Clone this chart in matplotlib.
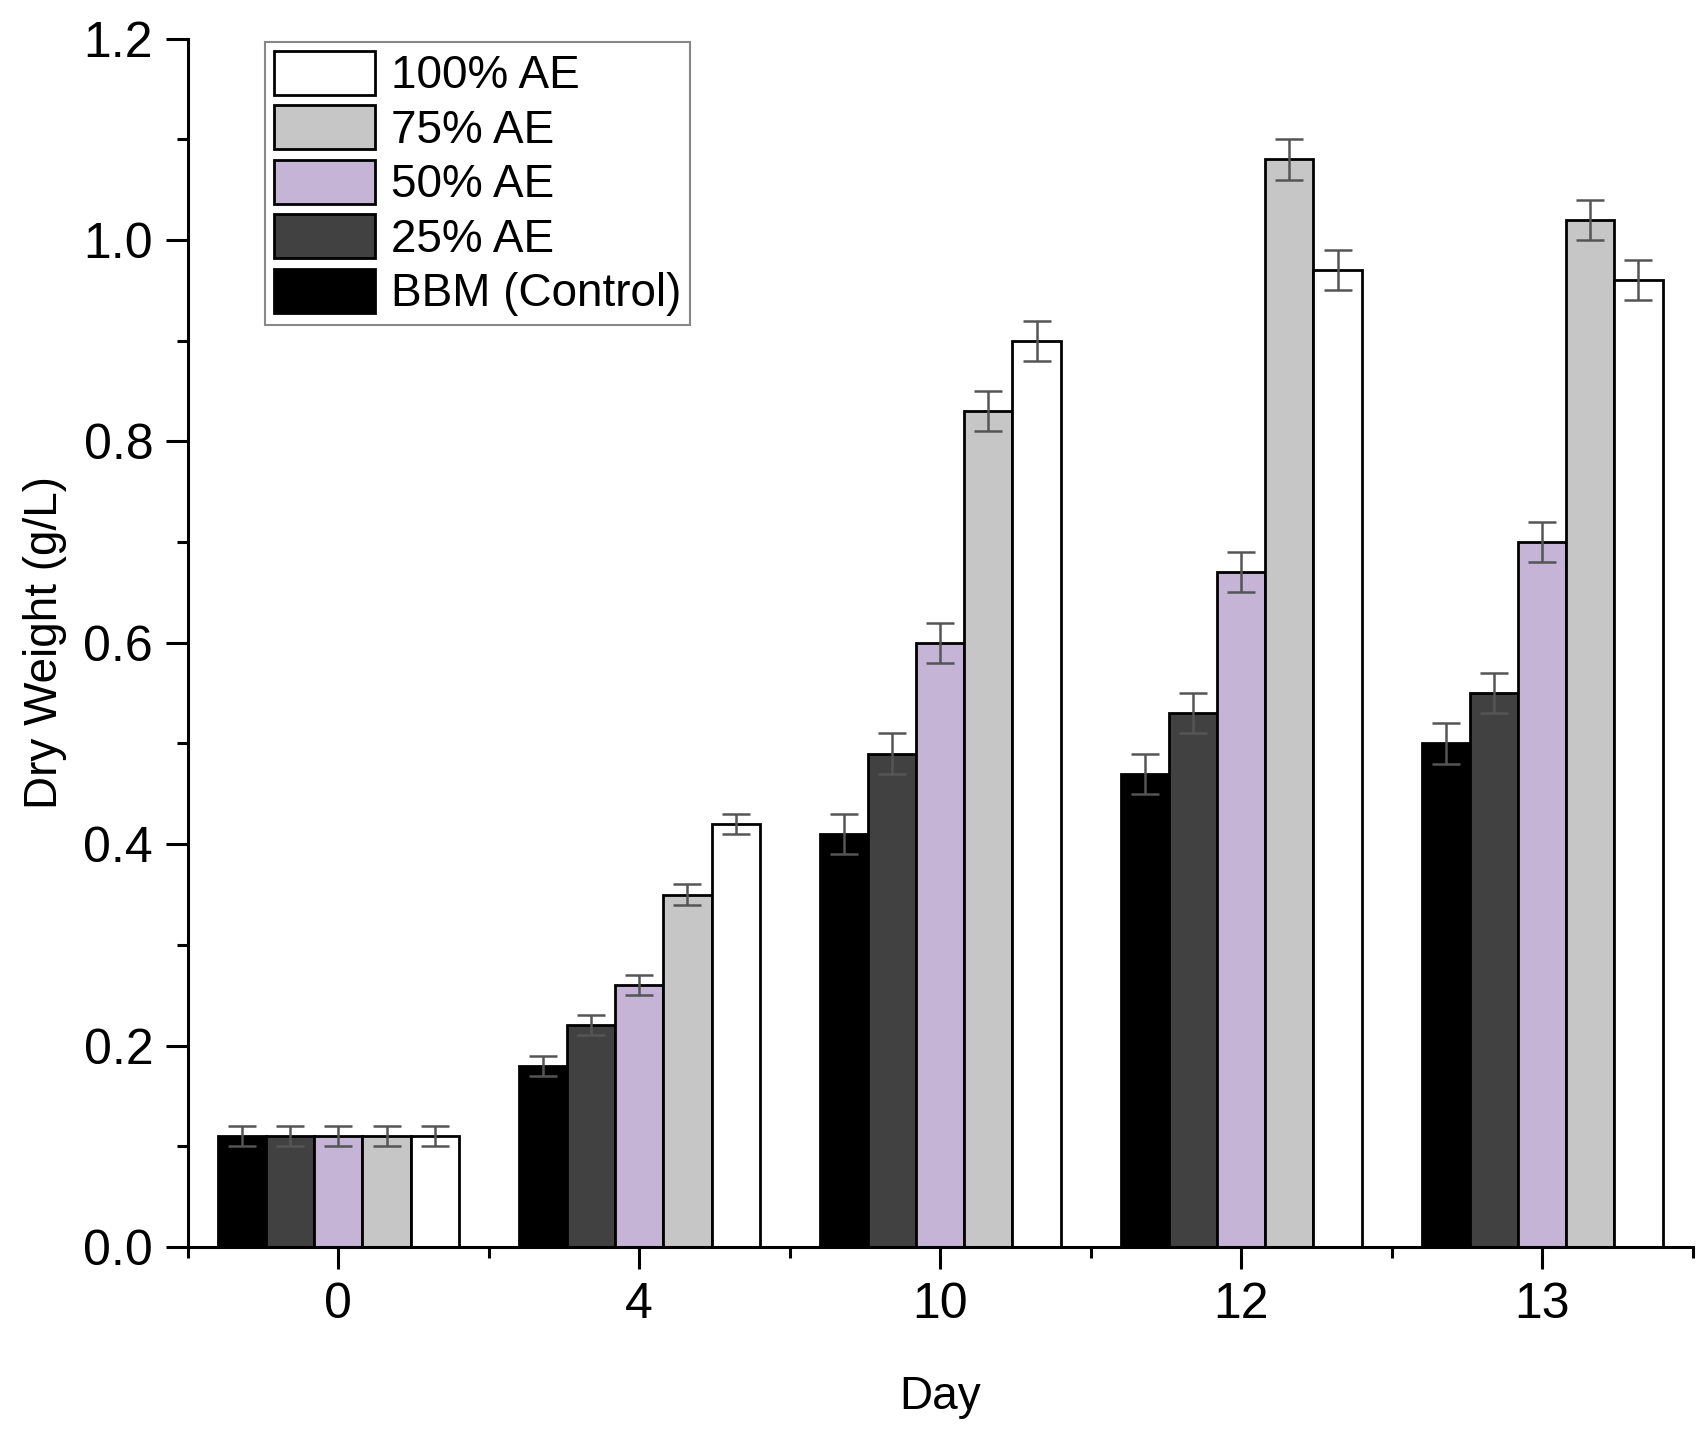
import matplotlib.pyplot as plt
import numpy as np

plt.rcParams['font.family'] = ['Liberation Sans', 'DejaVu Sans']

# Data
days = ['0', '4', '10', '12', '13']
series = ['BBM (Control)', '25% AE', '50% AE', '75% AE', '100% AE']
colors = ['#000000', '#414141', '#c5b4d6', '#c6c6c6', '#ffffff']

bbm = [0.11, 0.18, 0.41, 0.47, 0.50]
ae25 = [0.11, 0.22, 0.49, 0.53, 0.55]
ae50 = [0.11, 0.26, 0.60, 0.67, 0.70]
ae75 = [0.11, 0.35, 0.83, 1.08, 1.02]
ae100 = [0.11, 0.42, 0.90, 0.97, 0.96]

err_bbm = [0.01, 0.01, 0.02, 0.02, 0.02]
err_25 = [0.01, 0.01, 0.02, 0.02, 0.02]
err_50 = [0.01, 0.01, 0.02, 0.02, 0.02]
err_75 = [0.01, 0.01, 0.02, 0.02, 0.02]
err_100 = [0.01, 0.01, 0.02, 0.02, 0.02]

values = [bbm, ae25, ae50, ae75, ae100]
errors = [err_bbm, err_25, err_50, err_75, err_100]

fig = plt.figure(figsize=(17.08, 14.30), dpi=100)
ax = fig.add_axes([0.110, 0.128, 0.881, 0.845])

x = np.arange(len(days))
w = 0.16
handles = []
for i in range(len(series)):
    pos = x + (i - 2) * w
    b = ax.bar(pos, values[i], width=w, color=colors[i], edgecolor='black',
               linewidth=2.0, label=series[i], zorder=2)
    ax.errorbar(pos, values[i], yerr=errors[i], fmt='none', ecolor='#555555',
                elinewidth=1.8, capsize=10, capthick=1.8, zorder=3)
    handles.append(b)

ax.set_xlim(-0.5, 4.5)
ax.set_ylim(0, 1.2)
ax.set_xticks(x)
ax.set_xticklabels(days)
ax.set_xticks(np.arange(-0.5, 4.6, 1.0), minor=True)
ax.set_yticks(np.arange(0, 1.21, 0.2))
ax.set_yticklabels(['%.1f' % v for v in np.arange(0, 1.21, 0.2)])
ax.set_yticks(np.arange(0.1, 1.2, 0.2), minor=True)

for s in ['top', 'right']:
    ax.spines[s].set_visible(False)
for s in ['left', 'bottom']:
    ax.spines[s].set_linewidth(2.2)

ax.tick_params(axis='both', which='major', labelsize=36, width=2.2,
               length=16, direction='out', pad=9)
ax.tick_params(axis='both', which='minor', width=2.2, length=8,
               direction='out')

ax.set_xlabel('Day', fontsize=33, labelpad=34)
ax.set_ylabel('Dry Weight (g/L)', fontsize=33, labelpad=12)

leg = ax.legend(handles[::-1], series[::-1], loc='upper left',
                bbox_to_anchor=(0.045, 1.005), fontsize=33, frameon=True,
                fancybox=False, edgecolor='#888888', framealpha=1,
                handlelength=2.2, handleheight=1.1, labelspacing=0.15,
                handletextpad=0.35, borderpad=0.2, borderaxespad=0.2)
leg.get_frame().set_linewidth(1.5)

fig.savefig('out.png', dpi=100)
